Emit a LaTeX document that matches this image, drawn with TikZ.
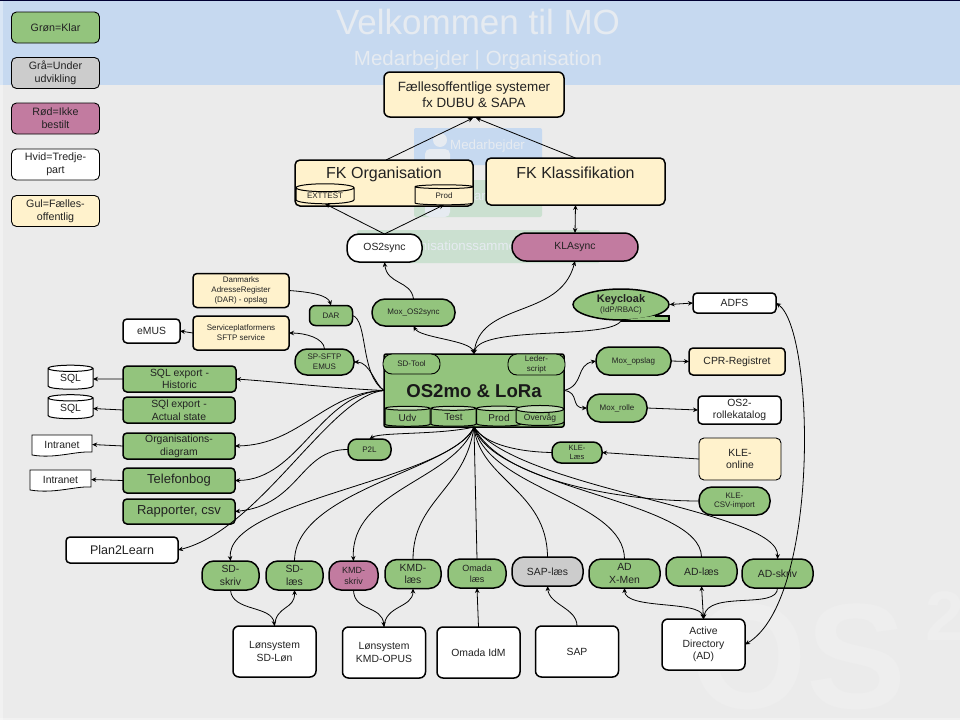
\documentclass[tikz,border=0pt]{standalone}
\usepackage{fontspec}
\setmainfont{Liberation Sans}
\usetikzlibrary{shapes.geometric,arrows.meta}
\definecolor{mogreen}{HTML}{93C47D}
\definecolor{moend}{HTML}{C3DDB6}
\definecolor{momauve}{HTML}{C27BA0}
\definecolor{moyellow}{HTML}{FFF2CC}
\definecolor{mogray}{HTML}{CCCCCC}
\definecolor{moblue}{HTML}{C6D9F0}
\definecolor{mobg}{HTML}{EBEBEB}
\definecolor{mopale}{HTML}{CBE0D0}
\definecolor{moghost}{HTML}{E6EBF1}
\definecolor{mowmark}{HTML}{EEEEEE}
\definecolor{moink}{HTML}{222222}
\tikzset{
    wh/.style 2 args={minimum width=#1pt, minimum height=#2pt},
    ts/.style={font=\fontsize{#1}{\the\dimexpr #1pt*123/100\relax}\selectfont},
    tsb/.style={font=\fontsize{#1}{\the\dimexpr #1pt*123/100\relax}\selectfont\bfseries},
    box/.style={draw=black, line width=1.5pt, rounded corners=4pt, inner sep=0pt, align=center, text=moink, outer sep=0pt},
    thinbox/.style={box, line width=.9pt, rounded corners=5pt},
    pill/.style={box, rounded corners=12pt},
    can/.style={draw=black, line width=1pt, cylinder, shape border rotate=90, aspect=.22, inner sep=0pt, outer sep=0pt, text=moink, cylinder uses custom fill},
    conn/.style={line width=.8pt, -{Stealth[length=5pt,width=4.5pt]}},
    both/.style={line width=.8pt, {Stealth[length=5pt,width=4.5pt]}-{Stealth[length=5pt,width=4.5pt]}},
    plain/.style={line width=.8pt},
    ghost/.style={text=moghost, inner sep=0pt},
}
\begin{document}
\begin{tikzpicture}[x=1pt, y=-1pt]
    \useasboundingbox (0,0) rectangle (960,720);

    % Slide behind the diagram
    \fill[mobg] (0,0) rectangle (960,720);
    \fill[moblue] (0,0) rectangle (960,85);
    \fill[black!80!blue] (0,0) rectangle (960,1);
    \fill[white, opacity=.35] (0,1) rectangle (2.5,720);
    \fill[white, opacity=.35] (0,718) rectangle (960,720);
    \node[ghost, ts=35] (title) at (478,22) {Velkommen til MO};
    \node[ghost, ts=20.5] (subtitle) at (478,60) {Medarbejder | Organisation};
    \fill[moblue, rounded corners=2pt] (414,128) rectangle (542,165);
    \fill[mopale, rounded corners=2pt] (414,180) rectangle (542,217);
    \fill[mopale, rounded corners=2pt] (357,230) rectangle (600,263);
    \fill[moghost] (440,140) circle (7);
    \fill[moghost, rounded corners=5pt] (425,149) rectangle (450,165);
    \fill[moghost, rounded corners=5pt] (425,199) rectangle (450,217);
    \node[ghost, ts=13.3, anchor=west] (medarb) at (450,146) {Medarbejder};
    \node[ghost, ts=13.3] (midtxt) at (480,197) {ar};
    \node[ghost, ts=13.3] (orgsam) at (478,247) {Organisationssammenkobling};
    \begin{scope}
        \clip (0,0) rectangle (960,720);
        \node[text=mowmark, tsb=150, inner sep=0pt, anchor=base west] (wmark) at (690,708) {OS};
        \node[text=mowmark, tsb=70, inner sep=0pt, anchor=base west] (wmtwo) at (925,640) {2};
    \end{scope}

    % Legend
    \foreach \nm/\yy/\col/\txt in {grn/27.5/mogreen/{Grøn=Klar}, gra/73/mogray/{Grå=Under\\udvikling}, rod/118.5/momauve/{Rød=Ikke\\bestilt}, hvi/164.5/white/{Hvid=Tredje-\\part}, gul/211/moyellow/{Gul=Fælles-\\offentlig}}
        \node[thinbox, fill=\col, wh={88}{31}, ts=10.7] (\nm) at (55.5,\yy) {\txt};

    % Fælles systemer
    \node[box, fill=moyellow, wh={180}{45}, ts=13.4, rounded corners=6pt] (faelles) at (474,94.5) {Fællesoffentlige systemer\\fx DUBU \& SAPA};
    \node[box, fill=moyellow, wh={178}{46}, rounded corners=5pt] (fkorg) at (384,183) {};
    \node[text=moink, ts=16, inner sep=0pt] (fkorgtxt) at (384,174.5) {FK Organisation};
    \node[can, cylinder body fill=moyellow, cylinder end fill=moyellow, wh={58}{20}, ts=8] (exttest) at (325,196) {EXTTEST};
    \node[can, cylinder body fill=moyellow, cylinder end fill=moyellow, wh={58}{20}, ts=8] (prod) at (444,196) {Prod};
    \node[box, fill=moyellow, wh={179}{47}, rounded corners=5pt] (fkkla) at (575.5,181.5) {};
    \node[text=moink, ts=16, inner sep=0pt] (fkklatxt) at (575.5,172.5) {FK Klassifikation};
    \node[pill, fill=white, wh={75}{28}, ts=10.4] (os2sync) at (384.5,248) {OS2sync};
    \node[pill, fill=momauve, wh={126}{28}, ts=10.4, rounded corners=14pt] (klasync) at (575,247) {KLAsync};

    % Left side
    \node[pill, fill=mogreen, wh={83}{27}, ts=8, rounded corners=13pt] (moxos2) at (413.5,312.5) {Mox\_OS2sync};
    \node[box, fill=moyellow, wh={96}{34}, ts=8] (danmarks) at (241,290.5) {Danmarks\\AdresseRegister\\(DAR) - opslag};
    \node[box, fill=moyellow, wh={96}{34}, ts=8] (sftpsrv) at (241,333) {Serviceplatformens\\SFTP service};
    \node[box, fill=white, wh={57}{24}, ts=10.4] (emus) at (151.5,331) {eMUS};
    \node[box, fill=mogreen, wh={43}{20}, ts=8, rounded corners=6pt] (dar) at (331,315.5) {DAR};
    \node[pill, fill=mogreen, wh={59}{26}, ts=8] (spsftp) at (324.5,362) {SP-SFTP\\EMUS};
    \node[box, fill=mogreen, wh={113}{26}, ts=10.4] (sqlhist) at (179.5,379) {SQL export -\\Historic};
    \node[box, fill=mogreen, wh={112}{26}, ts=10.4] (sqlact) at (179,410) {SQl export -\\Actual state};
    \node[box, fill=mogreen, wh={112}{26}, ts=10.4] (orgdia) at (179,446) {Organisations-\\diagram};
    \node[box, fill=mogreen, wh={112}{25}, ts=13] (tlf) at (179,480.5) {Telefonbog};
    \node[box, fill=mogreen, wh={112}{25}, ts=13] (rapp) at (179,511.5) {Rapporter, csv};
    \node[box, fill=white, wh={112}{26}, ts=12.5] (plan) at (122,550) {Plan2Learn};
    \node[can, aspect=.3, cylinder body fill=white, cylinder end fill=white, wh={45}{24}, ts=10.4] (sqla) at (70.5,379) {SQL};
    \node[can, aspect=.3, cylinder body fill=white, cylinder end fill=white, wh={45}{24}, ts=10.4] (sqlb) at (70.5,408.5) {SQL};
    \draw[line width=.8pt, fill=white] (32,435) -- (92,435) -- (92,452) .. controls (75,451) and (55,459) .. (32,455) -- cycle;
    \draw[line width=.8pt, fill=white] (30,470) -- (91,470) -- (91,487) .. controls (75,486) and (55,494) .. (30,490) -- cycle;
    \node[wh={60}{21}, ts=10.4, text=moink, inner sep=0pt] (intra) at (62,444.5) {Intranet};
    \node[wh={61}{21}, ts=10.4, text=moink, inner sep=0pt] (intrb) at (60.5,479.5) {Intranet};
    \node[pill, fill=mogreen, wh={43}{21}, ts=8, rounded corners=9pt] (ptl) at (369.5,449.5) {P2L};

    % OS2mo
    \node[box, fill=mogreen, wh={180}{73}, rounded corners=2pt] (os2mo) at (474,390.5) {};
    \node[text=black!90, tsb=18.6, inner sep=0pt] (os2motxt) at (474,391) {OS2mo \& LoRa};
    \node[box, fill=mogreen, wh={57}{20}, ts=8, rounded corners=9pt, line width=.9pt] (sdtool) at (411.5,364) {SD-Tool};
    \node[box, fill=mogreen, wh={57}{21}, ts=8, rounded corners=9pt, line width=.9pt] (leder) at (536.5,364.5) {Leder-\\script};
    \foreach \nm/\cx/\cw/\fsz/\txt in {udv/407.5/45/10/Udv, tst/453.5/45/10/Test, prd/499/45/10/Prod, ovv/540/48/8.5/Overvåg}
        \node[can, cylinder body fill=mogreen, cylinder end fill=moend, wh={\cw}{20}, ts=\fsz] (\nm) at (\cx,417.5) {\txt};

    % Right side
    \node[ellipse, draw=black, line width=1.5pt, fill=mogreen, inner sep=0pt, wh={96}{31}, align=center, ts=8, text=moink] (keycloak) at (621,304.5) {{\fontsize{11}{13}\selectfont\bfseries Keycloak}\\(IdP/RBAC)};
    \draw[line width=1.5pt, fill=mogreen] (keycloak.south) -- ++(48,0) -- ++(0,-5) -- ++(-14,0);
    \node[box, fill=white, wh={83}{20}, ts=10.4] (adfs) at (734.5,303) {ADFS};
    \node[pill, fill=mogreen, wh={75}{28}, ts=8, rounded corners=13pt] (moxops) at (633.5,361) {Mox\_opslag};
    \node[pill, fill=mogreen, wh={60}{28}, ts=8, rounded corners=13pt] (moxrol) at (617,408) {Mox\_rolle};
    \node[box, fill=moyellow, wh={96}{27}, ts=10.4] (cpr) at (737,361.5) {CPR-Registret};
    \node[box, fill=white, wh={83}{28}, ts=10.4] (rolle) at (739.5,410) {OS2-\\rollekatalog};
    \node[thinbox, fill=moyellow, wh={82}{42}, ts=10.4] (kleon) at (740,459) {KLE-\\online};
    \node[pill, fill=mogreen, wh={50}{21}, ts=7.5, rounded corners=9pt] (klelaes) at (577,452.5) {KLE-\\Læs};
    \node[pill, fill=mogreen, wh={71}{28}, ts=8, rounded corners=13pt] (klecsv) at (734.5,501) {KLE-\\CSV-import};

    % Bottom row
    \foreach \nm/\cx/\cy/\cw/\col/\fsz/\txt in {sdskriv/230.5/575.5/57/mogreen/10.4/{SD-\\skriv}, sdlaes/294.5/575.5/57/mogreen/10.4/{SD-\\læs}, kmdskriv/353.5/575.5/49/momauve/9/{KMD-\\skriv}, kmdlaes/413/574/56/mogreen/10.4/{KMD-\\læs}, omalaes/477/573.5/58/mogreen/9/{Omada\\læs}, saplaes/547.5/571.5/71/mogray/10.4/{SAP-læs}, adxmen/624.5/573.5/71/mogreen/10.4/{AD\\X-Men}, adlaes/701.5/571.5/71/mogreen/10.4/{AD-læs}, adskriv/777.5/573.5/71/mogreen/10.4/{AD-skriv}}
        \node[pill, fill=\col, wh={\cw}{29}, ts=\fsz] (\nm) at (\cx,\cy) {\txt};

    \foreach \nm/\cx/\cy/\txt in {sdlon/274.5/651.5/{Lønsystem\\SD-Løn}, kmdopus/384/652.5/{Lønsystem\\KMD-OPUS}, omaidm/478.5/652.5/{Omada IdM}, sapsys/577/651.5/{SAP}, addir/703.5/644.5/{Active\\Directory\\(AD)}}
        \node[box, fill=white, wh={83}{51}, ts=10.4, rounded corners=6pt] (\nm) at (\cx,\cy) {\txt};

    % Connectors top
    \draw[conn] (fkorg.north) ++(2,0) -- (473,118);
    \draw[conn] (fkkla.north) -- (476,118);
    \draw[conn] (os2sync.north) -- (exttest.south);
    \draw[conn] (os2sync.north) -- (prod.south);
    \draw[both] (klasync.north) -- (fkkla.south);
    \draw[conn] (moxos2.north) .. controls (411,280) and (387,285) .. (os2sync.south);
    \draw[both] (moxos2.south) .. controls (420,338) and (470,340) .. (os2mo.north);
    \draw[conn] (os2mo.north) .. controls (478,300) and (560,320) .. (klasync.south);
    \draw[conn] (keycloak.south) .. controls (610,340) and (480,325) .. (os2mo.north);
    \draw[both] (keycloak.east) -- (adfs.west);

    % Connectors right
    \draw[conn] (os2mo.east) .. controls (585,385) and (575,365) .. (moxops.west);
    \draw[conn] (os2mo.east) .. controls (580,392) and (570,408) .. (moxrol.west);
    \draw[conn] (moxops.east) -- (cpr.west);
    \draw[conn] (moxrol.east) -- (rolle.west);
    \draw[conn] (kleon.west) -- (klelaes.east);
    \draw[plain] (klelaes.west) .. controls (520,452) and (485,445) .. (os2mo.south);
    \draw[plain] (klecsv.west) .. controls (620,501) and (500,480) .. (os2mo.south);
    \draw[both] (adfs.east) .. controls (815,330) and (820,600) .. (addir.east);

    % Connectors left
    \draw[conn] (danmarks.east) .. controls (310,292) and (328,295) .. (dar.north);
    \draw[plain] (dar.east) .. controls (368,320) and (360,375) .. (os2mo.west);
    \draw[conn] (os2mo.west) .. controls (375,385) and (370,362) .. (spsftp.east);
    \draw[conn] (spsftp.north) .. controls (324,338) and (305,333) .. (sftpsrv.east);
    \draw[conn] (sftpsrv.west) -- (emus.east);
    \draw[conn] (os2mo.west) .. controls (330,388) and (280,382) .. (sqlhist.east);
    \draw[conn] (os2mo.west) .. controls (325,392) and (300,445) .. (orgdia.east);
    \draw[conn] (os2mo.west) .. controls (320,392) and (300,480) .. (tlf.east);
    \draw[conn] (os2mo.west) .. controls (330,395) and (260,530) .. (plan.east);
    \draw[conn] (os2mo.south) .. controls (440,435) and (380,432) .. (ptl.north);
    \draw[conn] (ptl.west) .. controls (300,449) and (300,505) .. (rapp.east);
    \draw[conn] (sqlhist.west) -- (sqla.east);
    \draw[conn] (sqlact.west) -- (sqlb.east);
    \draw[conn] (orgdia.west) -- (intra.east);
    \draw[conn] (tlf.west) -- (intrb.east);

    % Connectors bottom
    \draw[conn] (os2mo.south) .. controls (450,480) and (225,500) .. (sdskriv.north);
    \draw[plain] (os2mo.south) .. controls (455,470) and (295,490) .. (sdlaes.north);
    \draw[conn] (os2mo.south) .. controls (455,480) and (350,490) .. (kmdskriv.north);
    \draw[plain] (os2mo.south) .. controls (465,490) and (413,500) .. (kmdlaes.north);
    \draw[plain] (os2mo.south) -- (omalaes.north);
    \draw[plain] (os2mo.south) .. controls (480,480) and (547,490) .. (saplaes.north);
    \draw[plain] (os2mo.south) .. controls (490,490) and (624,500) .. (adxmen.north);
    \draw[plain] (os2mo.south) .. controls (495,490) and (701,500) .. (adlaes.north);
    \draw[conn] (os2mo.south) .. controls (520,490) and (780,510) .. (adskriv.north);
    \draw[conn] (sdskriv.south) .. controls (232,612) and (272,605) .. (sdlon.north);
    \draw[conn] (sdlon.north) .. controls (276,605) and (295,610) .. (sdlaes.south);
    \draw[conn] (kmdskriv.south) .. controls (354,612) and (382,605) .. (kmdopus.north);
    \draw[conn] (kmdopus.north) .. controls (385,605) and (413,608) .. (kmdlaes.south);
    \draw[conn] (omaidm.north) -- (omalaes.south);
    \draw[conn] (sapsys.north) .. controls (577,608) and (549,605) .. (saplaes.south);
    \draw[both] (addir.north) .. controls (700,600) and (625,610) .. (adxmen.south);
    \draw[both] (addir.north) -- (adlaes.south);
    \draw[conn] (adskriv.south) .. controls (778,610) and (708,590) .. (addir.north);
\end{tikzpicture}
\end{document}
